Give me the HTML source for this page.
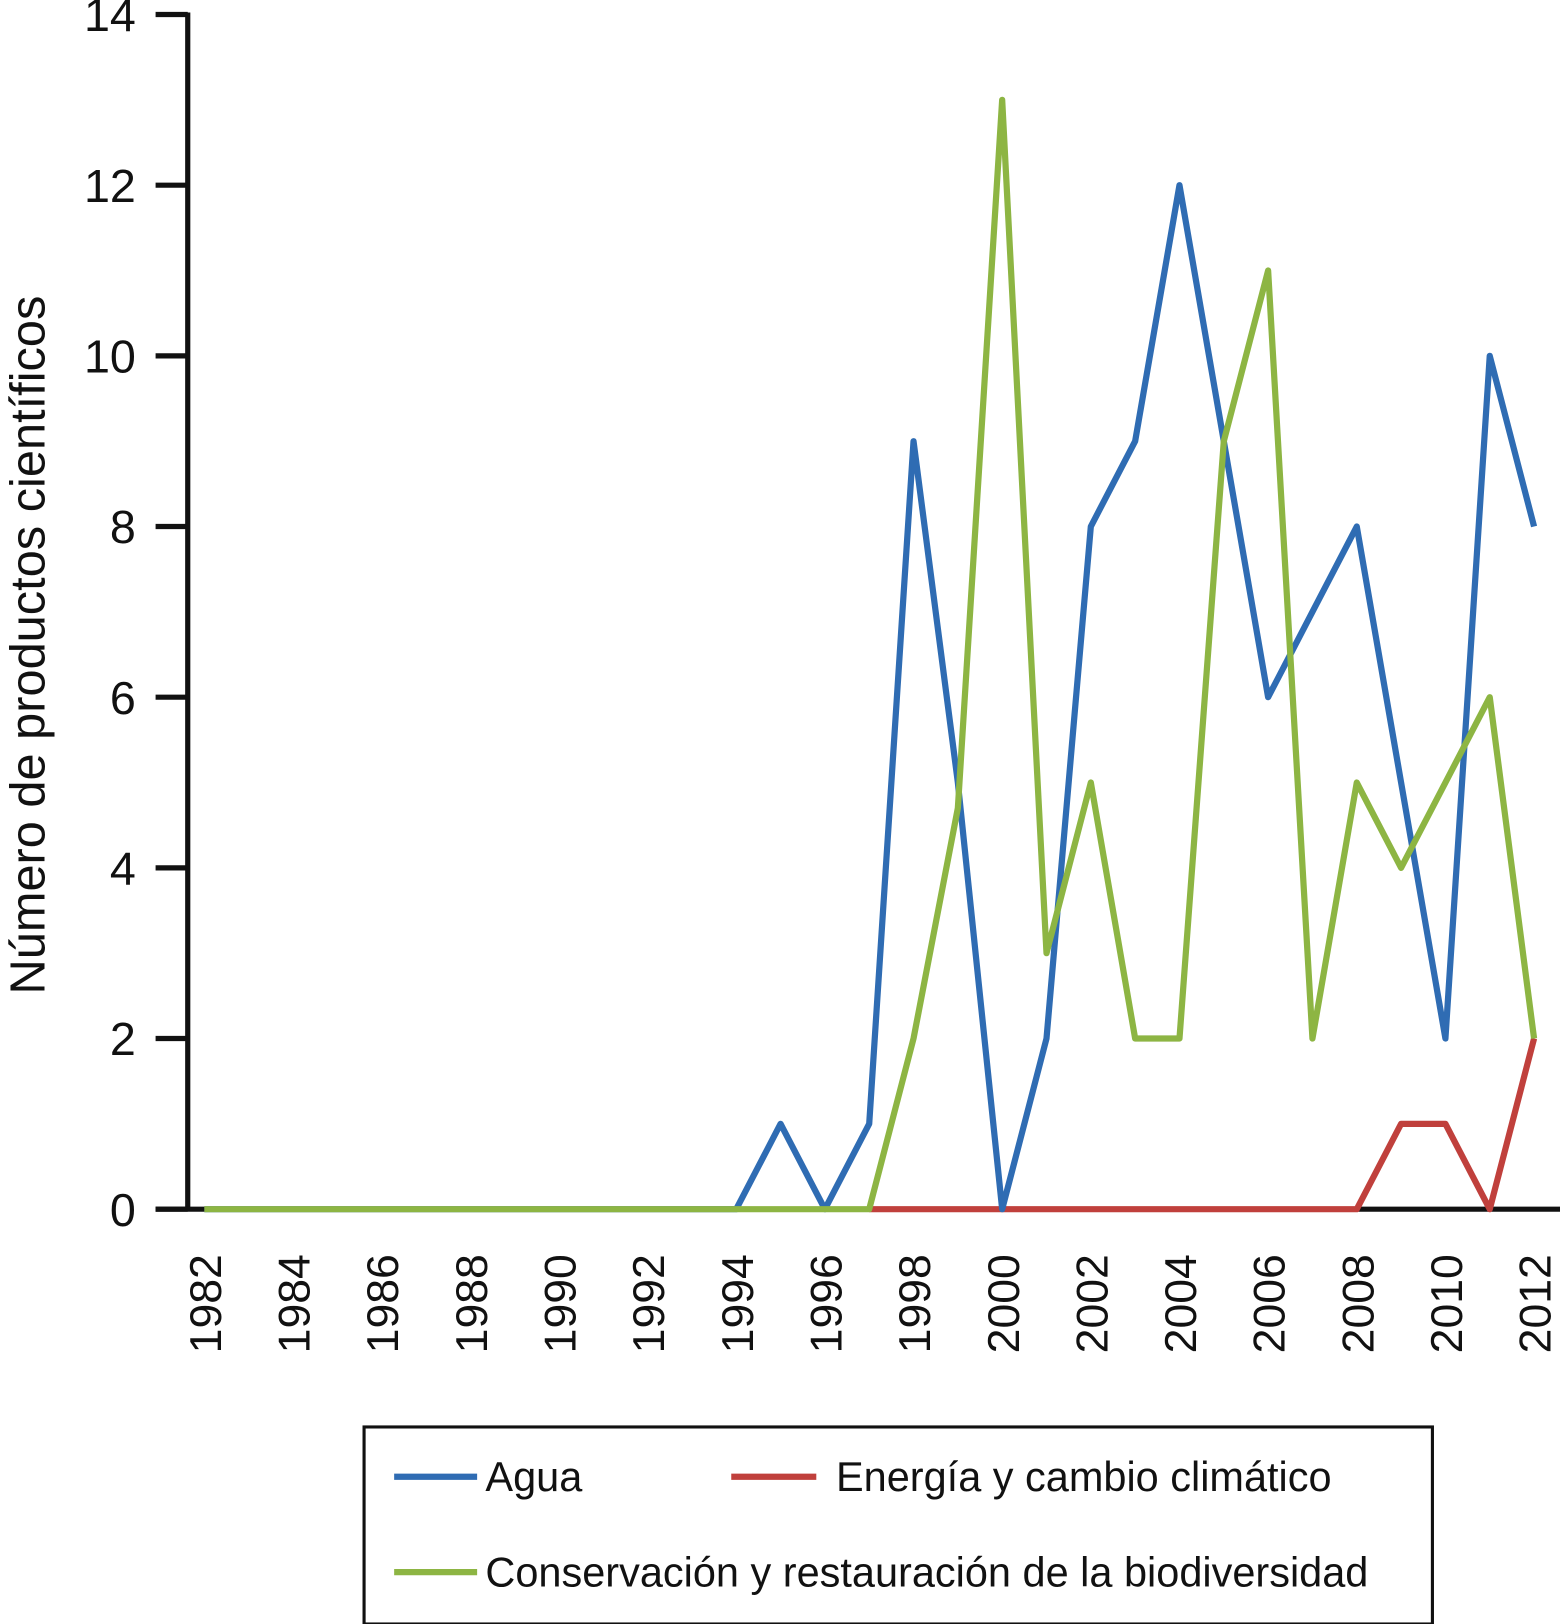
<!DOCTYPE html>
<html><head><meta charset="utf-8"><style>
body{margin:0;background:#fff}
svg{display:block;font-family:"Liberation Sans",sans-serif}
</style></head><body>
<svg width="1560" height="1624" viewBox="0 0 1504 1566" preserveAspectRatio="none" id="c">
<text transform="translate(43,622) rotate(-90)" text-anchor="middle" font-size="47" fill="#111">Número de productos científicos</text>
<g id="grid"></g>
<g>
<rect x="351" y="1376" width="1030" height="190" fill="#fff" stroke="#111" stroke-width="3"/>
<line x1="380" y1="1424" x2="460" y2="1424" stroke="#2f6cb3" stroke-width="6"/>
<text x="468" y="1438" font-size="40" fill="#111">Agua</text>
<line x1="705" y1="1424" x2="787" y2="1424" stroke="#c0403c" stroke-width="6"/>
<text x="806" y="1438" font-size="40" fill="#111">Energía y cambio climático</text>
<line x1="380" y1="1516" x2="460" y2="1516" stroke="#8db543" stroke-width="6"/>
<text x="468" y="1530" font-size="40" fill="#111">Conservación y restauración de la biodiversidad</text>
</g>
</svg>
<script>
const years=[];for(let y=1982;y<=2012;y++)years.push(y);
const agua=[0,0,0,0,0,0,0,0,0,0,0,0,0,1,0,1,9,5,0,2,8,9,12,9,6,7,8,5,2,10,8];
const energia=[0,0,0,0,0,0,0,0,0,0,0,0,0,0,0,0,0,0,0,0,0,0,0,0,0,0,0,1,1,0,2];
const conserv=[0,0,0,0,0,0,0,0,0,0,0,0,0,0,0,0,2,4.7,13,3,5,2,2,9,11,2,5,4,5,6,2];
const yTicks=[0,2,4,6,8,10,12,14];
const xTicks=[1982,1984,1986,1988,1990,1992,1994,1996,1998,2000,2002,2004,2006,2008,2010,2012];
const X=y=>197+(y-1982)*(1479-197)/30, Y=v=>1166-v*(1152/14);
const svg=document.getElementById('c'),g=document.getElementById('grid'),NS='http://www.w3.org/2000/svg';
function mk(t,a,p){const e=document.createElementNS(NS,t);for(const k in a)e.setAttribute(k,a[k]);(p||svg).appendChild(e);return e;}
yTicks.forEach(v=>{const l=mk('line',{x1:150,x2:181,y1:Y(v),y2:Y(v),stroke:'#111','stroke-width':5},g);


const t=mk('text',{x:131,y:Y(v)+16,'text-anchor':'end','font-size':45,fill:'#111'},g);t.textContent=v;

});
xTicks.forEach(yr=>{const t=mk('text',{transform:`translate(${X(yr)+16},1305) rotate(-90)`,'font-size':43,fill:'#111'},g);t.textContent=yr;

});
const ya=mk('line',{x1:181,x2:181,y1:12,y2:1168,stroke:'#111','stroke-width':5});


const xa=mk('line',{x1:150,x2:1504,y1:1166,y2:1166,stroke:'#111','stroke-width':5});


function series(d,c,n,start){const pts=[];d.forEach((v,i)=>{if(i>=start)pts.push(X(years[i])+','+Y(v));});
const p=mk('polyline',{points:pts.join(' '),fill:'none',stroke:c,'stroke-width':6,'stroke-linejoin':'round'});

}
series(energia,'#c0403c','series-energia',15);
series(agua,'#2f6cb3','series-agua',0);
series(conserv,'#8db543','series-conservacion',0);
</script>
</body></html>
